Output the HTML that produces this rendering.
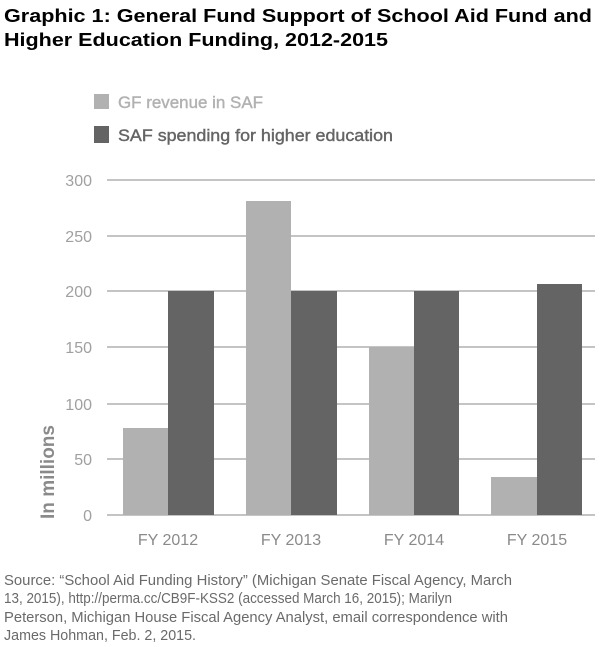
<!DOCTYPE html>
<html><head><meta charset="utf-8"><style>
html,body{margin:0;padding:0;background:#fff;width:600px;height:647px;overflow:hidden}
</style></head><body>
<svg width="600" height="647" xmlns="http://www.w3.org/2000/svg" font-family="Liberation Sans, Arial, sans-serif">
<text x="4" y="22" font-size="18.5" font-weight="bold" fill="#000" textLength="588" lengthAdjust="spacingAndGlyphs">Graphic 1: General Fund Support of School Aid Fund and</text>
<text x="4" y="46" font-size="18.5" font-weight="bold" fill="#000" textLength="384" lengthAdjust="spacingAndGlyphs">Higher Education Funding, 2012-2015</text>
<rect x="94" y="94" width="15" height="15" fill="#b1b1b1"/>
<text x="118" y="108" font-size="17" fill="#b1b1b1" stroke="#b1b1b1" stroke-width="0.4" textLength="145" lengthAdjust="spacingAndGlyphs">GF revenue in SAF</text>
<rect x="94" y="126" width="15" height="17" fill="#646464"/>
<text x="118" y="141" font-size="17" fill="#646464" stroke="#646464" stroke-width="0.4" textLength="275" lengthAdjust="spacingAndGlyphs">SAF spending for higher education</text>
<g stroke="#c4c4c4" stroke-width="2">
<line x1="107" x2="595" y1="180" y2="180"/><line x1="107" x2="595" y1="236" y2="236"/>
<line x1="107" x2="595" y1="291" y2="291"/><line x1="107" x2="595" y1="347" y2="347"/>
<line x1="107" x2="595" y1="404" y2="404"/><line x1="107" x2="595" y1="459" y2="459"/>
<line x1="107" x2="595" y1="515" y2="515"/>
</g>
<g font-size="16" fill="#a0a0a0" text-anchor="end">
<text x="92" y="186">300</text><text x="92" y="242">250</text><text x="92" y="297">200</text>
<text x="92" y="353">150</text><text x="92" y="410">100</text><text x="92" y="465">50</text><text x="92" y="521">0</text>
</g>
<text transform="translate(54,472) rotate(-90)" font-size="19" font-weight="bold" fill="#8a8a8a" text-anchor="middle">In millions</text>
<g fill="#b1b1b1">
<rect x="123" y="428" width="45" height="87"/>
<rect x="246" y="201" width="45" height="314"/>
<rect x="369" y="347" width="45" height="168"/>
<rect x="491" y="477" width="46" height="38"/>
</g>
<g fill="#646464">
<rect x="168" y="291" width="46" height="224"/>
<rect x="291" y="291" width="46" height="224"/>
<rect x="414" y="291" width="45" height="224"/>
<rect x="537" y="284" width="45" height="231"/>
</g>
<g font-size="16" fill="#8a8a8a" text-anchor="middle">
<text x="168" y="545">FY 2012</text><text x="291" y="545">FY 2013</text>
<text x="414" y="545">FY 2014</text><text x="537" y="545">FY 2015</text>
</g>
<g font-size="15" fill="#6a6a6a">
<text x="4" y="585" textLength="508" lengthAdjust="spacingAndGlyphs">Source: “School Aid Funding History” (Michigan Senate Fiscal Agency, March</text>
<text x="4" y="603" textLength="448" lengthAdjust="spacingAndGlyphs">13, 2015), http://perma.cc/CB9F-KSS2 (accessed March 16, 2015); Marilyn</text>
<text x="4" y="622" textLength="504" lengthAdjust="spacingAndGlyphs">Peterson, Michigan House Fiscal Agency Analyst, email correspondence with</text>
<text x="4" y="640" textLength="192" lengthAdjust="spacingAndGlyphs">James Hohman, Feb. 2, 2015.</text>
</g>
</svg>
</body></html>
